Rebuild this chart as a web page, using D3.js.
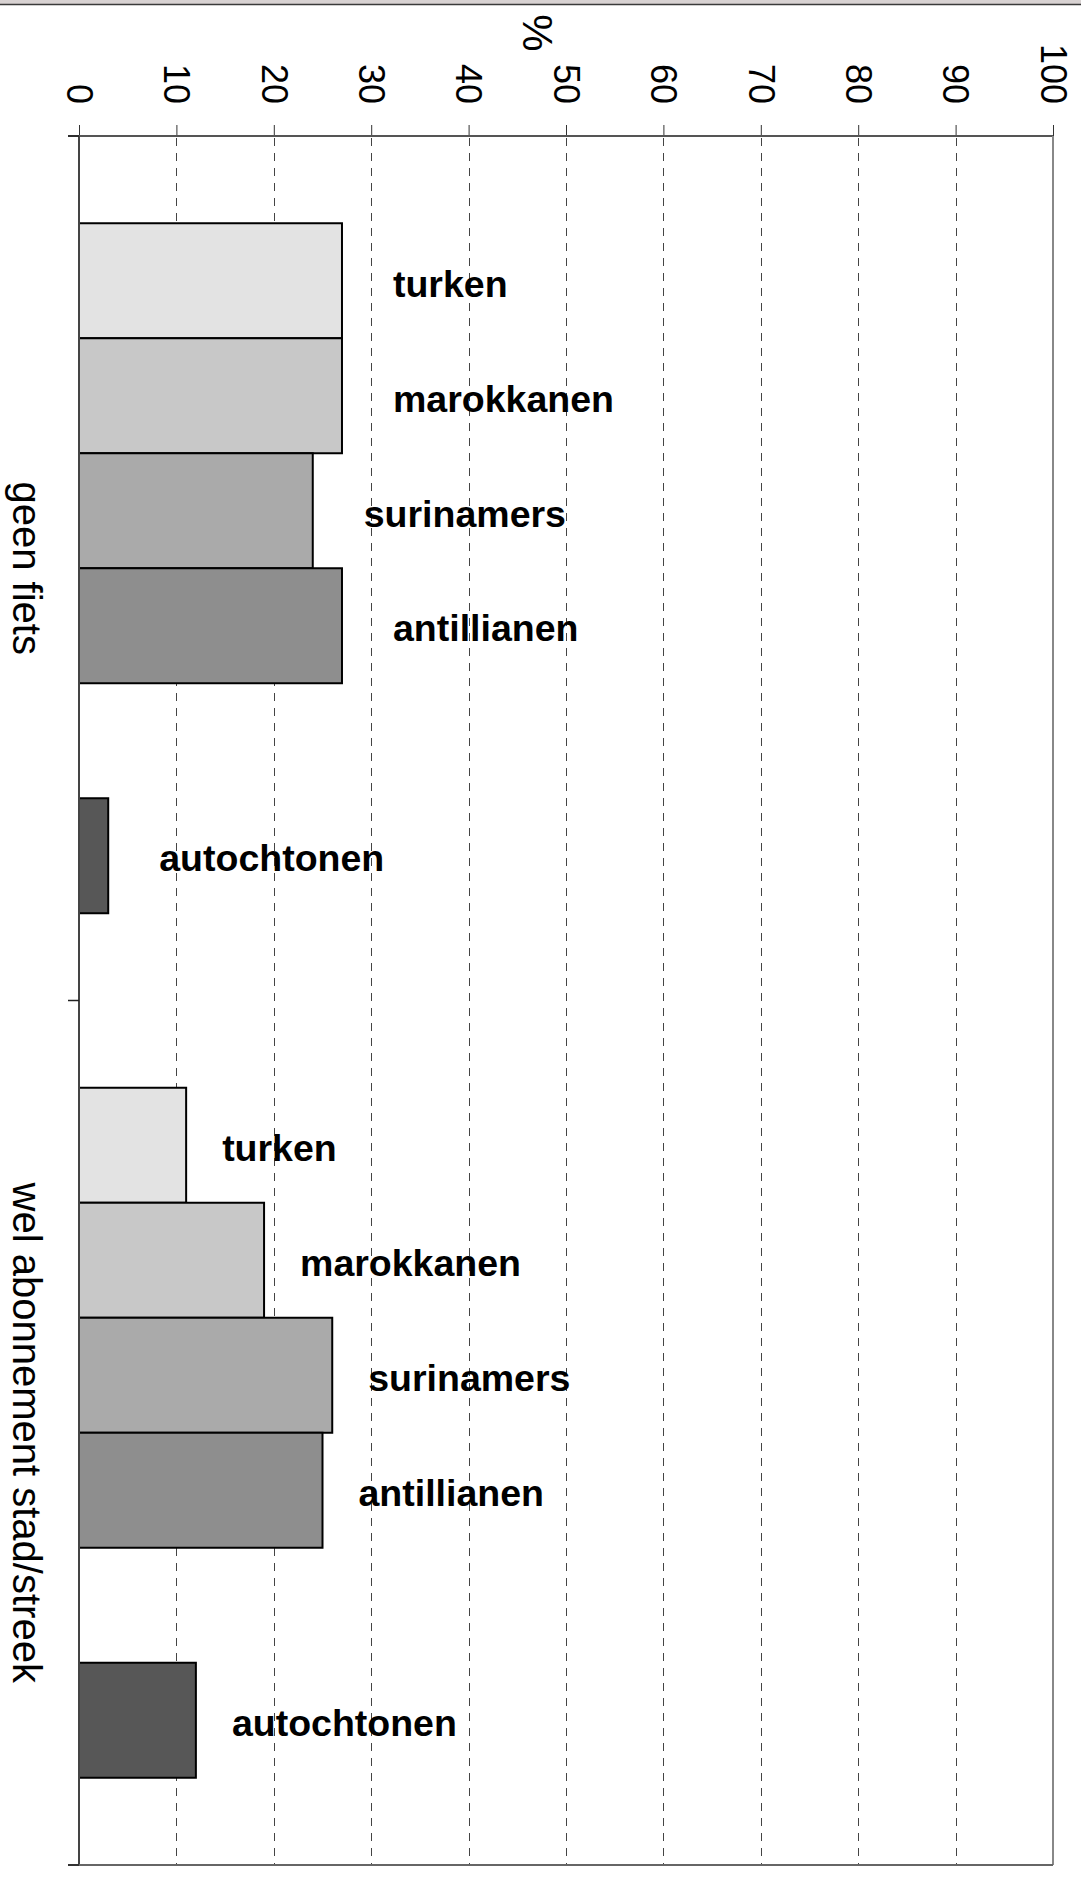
<!DOCTYPE html>
<html><head><meta charset="utf-8">
<script src="https://cdn.jsdelivr.net/npm/d3@7"></script>
<style>html,body{margin:0;padding:0;background:#fff}svg{display:block}</style>
</head><body>
<svg id="chart" width="1081" height="1879"></svg>
<script>
// ---- data ----
const groups = ["geen fiets", "wel abonnement stad/streek"];
const series = ["turken", "marokkanen", "surinamers", "antillianen", "autochtonen"];
const geenFiets = [27, 27, 24, 27, 3];
const welAbonnement = [11, 19, 26, 25, 12];
const tickValues = [0, 10, 20, 30, 40, 50, 60, 70, 80, 90, 100];
const axisTitle = "%";

// ---- layout / style ----
const W = 1081, H = 1879;
const plot = {left: 79, right: 1053, top: 136, bottom: 1865};
const fills = ["#e3e3e3", "#c8c8c8", "#aaaaaa", "#8e8e8e", "#575757"];
const labelGap = [51, 36];
const font = '"Liberation Sans", Arial, Helvetica, sans-serif';

const values = [geenFiets, welAbonnement];
const rows = [];
groups.forEach((g, gi) => series.forEach((s, si) => rows.push({group: g, gi, series: s, si, value: values[gi][si]})));

const svg = d3.select("#chart");

// top chrome strip
svg.append("rect").attr("x", 0).attr("y", 0).attr("width", W).attr("height", 4).attr("fill", "#d8d2d2");
svg.append("line").attr("x1", 0).attr("x2", W).attr("y1", 4.5).attr("y2", 4.5).attr("stroke", "#3a3a3a").attr("stroke-width", 1.5);

const x = d3.scaleLinear().domain([0, 100]).range([plot.left, plot.right]);
const y0 = d3.scaleBand().domain(groups).range([plot.top, plot.bottom]).padding(0);
const slots = [...series.slice(0, 4), "__gap", series[4]];
const y1 = d3.scaleBand().domain(slots).range([0, y0.bandwidth()]).paddingInner(0).paddingOuter(0.7587);

// gridlines
svg.append("g").selectAll("line").data(tickValues.filter(t => t > 0 && t < 100)).join("line")
  .attr("x1", d => Math.round(x(d)) + 0.5).attr("x2", d => Math.round(x(d)) + 0.5)
  .attr("y1", plot.top + 2).attr("y2", plot.bottom)
  .attr("stroke", "#444").attr("stroke-width", 1).attr("stroke-dasharray", "8,7");

// top axis
const ax = svg.append("g").attr("transform", `translate(0,${plot.top})`)
  .call(d3.axisTop(x).tickValues(tickValues).tickSize(11).tickFormat(d => d));
ax.select(".domain").remove();
ax.selectAll(".tick line").attr("stroke", "#333").attr("stroke-width", 1);
ax.selectAll(".tick text")
  .attr("x", 0).attr("y", 0).attr("dy", "0.35em")
  .attr("transform", "translate(0,-32) rotate(90)")
  .attr("text-anchor", "end")
  .attr("font-family", font).attr("font-size", 36).attr("fill", "#000");
svg.append("line").attr("x1", plot.left - 11).attr("x2", plot.right).attr("y1", plot.top).attr("y2", plot.top)
  .attr("stroke", "#555").attr("stroke-width", 2);

// axis title
svg.append("text").attr("transform", `translate(538,33) rotate(90)`)
  .attr("text-anchor", "middle").attr("dy", "0.35em")
  .attr("font-family", font).attr("font-size", 42).text(axisTitle);

// bars
svg.append("g").selectAll("rect").data(rows).join("rect")
  .attr("x", x(0))
  .attr("y", d => y0(d.group) + y1(d.series))
  .attr("width", d => x(d.value) - x(0))
  .attr("height", y1.bandwidth())
  .attr("fill", d => fills[d.si])
  .attr("stroke", "#000").attr("stroke-width", 2);

// bar labels
svg.append("g").selectAll("text").data(rows).join("text")
  .attr("x", d => x(d.value) + labelGap[d.gi])
  .attr("y", d => y0(d.group) + y1(d.series) + y1.bandwidth() / 2)
  .attr("dy", "0.42em")
  .attr("font-family", font).attr("font-weight", "bold").attr("font-size", 37.5)
  .attr("fill", "#000").text(d => d.series);

// left axis + frame
svg.append("line").attr("x1", plot.left).attr("x2", plot.left).attr("y1", plot.top).attr("y2", plot.bottom)
  .attr("stroke", "#444").attr("stroke-width", 2);
svg.append("line").attr("x1", plot.right).attr("x2", plot.right).attr("y1", plot.top).attr("y2", plot.bottom)
  .attr("stroke", "#888").attr("stroke-width", 2);
svg.append("line").attr("x1", plot.left - 11).attr("x2", plot.right).attr("y1", plot.bottom).attr("y2", plot.bottom)
  .attr("stroke", "#666").attr("stroke-width", 2);
const bounds = groups.map(g => y0(g)).concat([plot.bottom]);
svg.append("g").selectAll("line").data(bounds).join("line")
  .attr("x1", plot.left - 11).attr("x2", plot.left).attr("y1", d => d).attr("y2", d => d)
  .attr("stroke", "#222").attr("stroke-width", 1.5);

// category labels
svg.append("g").selectAll("text").data(groups).join("text")
  .attr("transform", d => `translate(13,${y0(d) + y0.bandwidth() / 2}) rotate(90)`)
  .attr("text-anchor", "middle")
  .attr("font-family", font).attr("font-size", 40).attr("fill", "#000").text(d => d);
</script>
</body></html>
